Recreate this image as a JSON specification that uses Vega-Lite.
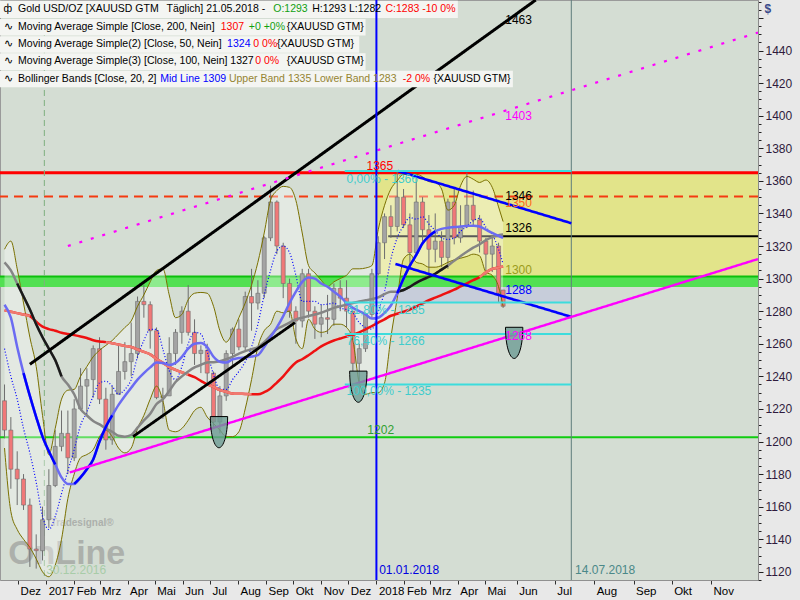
{
"$schema":"https://vega.github.io/schema/vega-lite/v6.json",
"width":758,"height":580,"autosize":"none",
"padding":{"left":0,"top":0,"right":42,"bottom":20},
"background":"#e8e8e8",
"config":{"view":{"fill":"#d4ddd3","stroke":"#9a9a9a"},"text":{"font":"Liberation Sans"},"axis":{"labelOverlap":false}},
"datasets":{
"px":[
{"d":"2016-11-16","o":1225,"h":1235,"l":1202,"c":1207,"s2":1280.5,"s5":1284,"s1":1310,"bu":1318,"bl":1196,"bm":1257},
{"d":"2016-11-23","o":1207,"h":1215,"l":1171,"c":1183,"s2":1279.7,"s5":1276,"s1":1305,"bu":1323,"bl":1157,"bm":1240},
{"d":"2016-11-30","o":1183,"h":1194,"l":1161,"c":1177,"s2":1278.8,"s5":1258,"s1":1297,"bu":1306,"bl":1146,"bm":1226},
{"d":"2016-12-07","o":1177,"h":1180,"l":1158,"c":1161,"s2":1278,"s5":1242,"s1":1289,"bu":1285,"bl":1140,"bm":1208},
{"d":"2016-12-14","o":1161,"h":1165,"l":1123,"c":1134,"s2":1277,"s5":1228,"s1":1281,"bu":1264,"bl":1135,"bm":1193},
{"d":"2016-12-21","o":1134,"h":1143,"l":1122,"c":1133,"s2":1273.5,"s5":1215,"s1":1272,"bu":1246,"bl":1128,"bm":1175},
{"d":"2016-12-28","o":1133,"h":1160,"l":1127,"c":1152,"s2":1270.5,"s5":1203,"s1":1264,"bu":1216,"bl":1120,"bm":1154},
{"d":"2017-01-04","o":1152,"h":1183,"l":1147,"c":1173,"s2":1269,"s5":1194,"s1":1257,"bu":1192,"bl":1117,"bm":1146},
{"d":"2017-01-11","o":1173,"h":1207,"l":1172,"c":1197,"s2":1268,"s5":1186,"s1":1250,"bu":1208,"bl":1124,"bm":1154},
{"d":"2017-01-18","o":1197,"h":1219,"l":1194,"c":1205,"s2":1266.8,"s5":1178,"s1":1240,"bu":1226,"bl":1140,"bm":1168},
{"d":"2017-01-25","o":1205,"h":1219,"l":1180,"c":1190,"s2":1266,"s5":1174,"s1":1235,"bu":1231.5,"bl":1165,"bm":1182},
{"d":"2017-02-01","o":1190,"h":1226,"l":1188,"c":1220,"s2":1265.3,"s5":1174,"s1":1229,"bu":1232,"bl":1180,"bm":1195},
{"d":"2017-02-08","o":1220,"h":1245,"l":1219,"c":1234,"s2":1264.5,"s5":1178,"s1":1220,"bu":1240,"bl":1190,"bm":1210},
{"d":"2017-02-15","o":1234,"h":1245,"l":1216,"c":1238,"s2":1263.5,"s5":1183,"s1":1216,"bu":1246,"bl":1192,"bm":1218},
{"d":"2017-02-22","o":1238,"h":1259,"l":1227,"c":1257,"s2":1262.2,"s5":1189,"s1":1212.6,"bu":1252,"bl":1195,"bm":1228},
{"d":"2017-03-01","o":1257,"h":1264,"l":1223,"c":1226,"s2":1261.4,"s5":1200,"s1":1210.5,"bu":1256,"bl":1203,"bm":1236},
{"d":"2017-03-08","o":1226,"h":1233,"l":1195,"c":1201,"s2":1261,"s5":1209,"s1":1208,"bu":1259,"bl":1207,"bm":1237},
{"d":"2017-03-15","o":1201,"h":1234,"l":1198,"c":1229,"s2":1260.3,"s5":1216,"s1":1206,"bu":1262,"bl":1203,"bm":1234},
{"d":"2017-03-22","o":1229,"h":1260,"l":1229,"c":1243,"s2":1259.5,"s5":1222.5,"s1":1203.5,"bu":1266,"bl":1196,"bm":1229},
{"d":"2017-03-29","o":1243,"h":1261,"l":1238,"c":1249,"s2":1258.7,"s5":1228,"s1":1203,"bu":1270,"bl":1193,"bm":1232},
{"d":"2017-04-05","o":1249,"h":1273,"l":1240,"c":1254,"s2":1258,"s5":1233,"s1":1204,"bu":1274,"bl":1196,"bm":1238},
{"d":"2017-04-12","o":1254,"h":1289,"l":1251,"c":1286,"s2":1256.5,"s5":1238,"s1":1208.5,"bu":1283,"bl":1208,"bm":1252},
{"d":"2017-04-19","o":1286,"h":1296,"l":1276,"c":1284,"s2":1255,"s5":1242,"s1":1213,"bu":1290,"bl":1216,"bm":1262},
{"d":"2017-04-26","o":1284,"h":1286,"l":1257,"c":1268,"s2":1253.5,"s5":1245.5,"s1":1217,"bu":1298,"bl":1226,"bm":1268.8},
{"d":"2017-05-03","o":1268,"h":1270,"l":1226,"c":1227,"s2":1250.7,"s5":1248.5,"s1":1223,"bu":1305,"bl":1234,"bm":1268.8},
{"d":"2017-05-10","o":1227,"h":1233,"l":1214,"c":1228,"s2":1248.3,"s5":1248.2,"s1":1226,"bu":1306,"bl":1225,"bm":1256.6},
{"d":"2017-05-17","o":1228,"h":1264,"l":1228,"c":1254,"s2":1245.7,"s5":1247,"s1":1231,"bu":1290,"bl":1207,"bm":1243.5},
{"d":"2017-05-24","o":1254,"h":1269,"l":1247,"c":1267,"s2":1244,"s5":1248.3,"s1":1236.5,"bu":1276,"bl":1206,"bm":1238},
{"d":"2017-05-31","o":1267,"h":1283,"l":1260,"c":1280,"s2":1242.5,"s5":1252,"s1":1240,"bu":1278,"bl":1208,"bm":1246},
{"d":"2017-06-07","o":1280,"h":1296,"l":1265,"c":1267,"s2":1241,"s5":1257,"s1":1243,"bu":1287,"bl":1213,"bm":1260},
{"d":"2017-06-14","o":1267,"h":1275,"l":1247,"c":1254,"s2":1239.5,"s5":1260,"s1":1245.5,"bu":1291,"bl":1219,"bm":1267},
{"d":"2017-06-21","o":1254,"h":1259,"l":1242,"c":1256,"s2":1237.2,"s5":1260.5,"s1":1247,"bu":1291.5,"bl":1221,"bm":1266},
{"d":"2017-06-28","o":1256,"h":1260,"l":1236,"c":1242,"s2":1235,"s5":1258,"s1":1248.5,"bu":1291,"bl":1215,"bm":1255},
{"d":"2017-07-05","o":1242,"h":1243,"l":1208,"c":1212,"s2":1233.5,"s5":1252,"s1":1248.7,"bu":1283,"bl":1211,"bm":1241},
{"d":"2017-07-12","o":1212,"h":1234,"l":1205,"c":1228,"s2":1231.5,"s5":1249,"s1":1249.3,"bu":1268,"bl":1207,"bm":1232},
{"d":"2017-07-19","o":1228,"h":1256,"l":1225,"c":1254,"s2":1230.5,"s5":1248.5,"s1":1250.5,"bu":1261,"bl":1203,"bm":1232},
{"d":"2017-07-26","o":1254,"h":1270,"l":1245,"c":1269,"s2":1229.5,"s5":1250.4,"s1":1252,"bu":1267,"bl":1203,"bm":1238},
{"d":"2017-08-02","o":1269,"h":1275,"l":1256,"c":1258,"s2":1229.3,"s5":1251.3,"s1":1254,"bu":1276,"bl":1206,"bm":1243},
{"d":"2017-08-09","o":1258,"h":1292,"l":1256,"c":1289,"s2":1229.2,"s5":1251.6,"s1":1255.5,"bu":1285,"bl":1220,"bm":1249},
{"d":"2017-08-16","o":1289,"h":1306,"l":1268,"c":1285,"s2":1229,"s5":1252.2,"s1":1256.6,"bu":1296,"bl":1238,"bm":1258},
{"d":"2017-08-23","o":1285,"h":1299,"l":1281,"c":1291,"s2":1229,"s5":1253,"s1":1258,"bu":1310,"bl":1258,"bm":1272},
{"d":"2017-08-30","o":1291,"h":1326,"l":1288,"c":1325,"s2":1230.3,"s5":1258,"s1":1261,"bu":1328,"bl":1268,"bm":1290},
{"d":"2017-09-06","o":1325,"h":1357,"l":1323,"c":1347,"s2":1232.6,"s5":1264,"s1":1265,"bu":1348,"bl":1272,"bm":1305},
{"d":"2017-09-13","o":1347,"h":1348,"l":1315,"c":1320,"s2":1236.2,"s5":1270,"s1":1269,"bu":1354,"bl":1280,"bm":1317},
{"d":"2017-09-20","o":1320,"h":1322,"l":1288,"c":1297,"s2":1240,"s5":1277,"s1":1271,"bu":1356.6,"bl":1279,"bm":1320},
{"d":"2017-09-27","o":1297,"h":1300,"l":1276,"c":1280,"s2":1244.6,"s5":1285,"s1":1273,"bu":1356,"bl":1280,"bm":1316},
{"d":"2017-10-04","o":1280,"h":1283,"l":1260,"c":1274,"s2":1248.5,"s5":1292,"s1":1275,"bu":1348,"bl":1263,"bm":1302},
{"d":"2017-10-11","o":1274,"h":1306,"l":1270,"c":1303,"s2":1250.5,"s5":1298,"s1":1276,"bu":1328,"bl":1257,"bm":1286},
{"d":"2017-10-18","o":1303,"h":1306,"l":1276,"c":1280,"s2":1253,"s5":1300.7,"s1":1277,"bu":1308,"bl":1275,"bm":1286},
{"d":"2017-10-25","o":1280,"h":1283,"l":1263,"c":1272,"s2":1255.7,"s5":1300,"s1":1278,"bu":1303.5,"bl":1269,"bm":1286},
{"d":"2017-11-01","o":1272,"h":1284,"l":1264,"c":1276,"s2":1258.4,"s5":1297,"s1":1279,"bu":1299,"bl":1267,"bm":1284},
{"d":"2017-11-08","o":1276,"h":1290,"l":1266,"c":1275,"s2":1260.4,"s5":1295,"s1":1280.5,"bu":1295,"bl":1268,"bm":1284.3},
{"d":"2017-11-15","o":1275,"h":1297,"l":1271,"c":1294,"s2":1262,"s5":1292,"s1":1282,"bu":1298,"bl":1272,"bm":1285},
{"d":"2017-11-22","o":1294,"h":1299,"l":1280,"c":1288,"s2":1263.2,"s5":1289,"s1":1283,"bu":1300,"bl":1272,"bm":1282},
{"d":"2017-11-29","o":1288,"h":1299,"l":1270,"c":1280,"s2":1264.4,"s5":1285,"s1":1284,"bu":1302,"bl":1270,"bm":1281},
{"d":"2017-12-06","o":1280,"h":1280,"l":1243,"c":1248,"s2":1265.5,"s5":1282,"s1":1285,"bu":1306,"bl":1262,"bm":1279},
{"d":"2017-12-13","o":1248,"h":1260,"l":1236,"c":1257,"s2":1267,"s5":1280,"s1":1286,"bu":1306,"bl":1236,"bm":1273},
{"d":"2017-12-20","o":1257,"h":1279,"l":1255,"c":1278,"s2":1268.8,"s5":1278,"s1":1286.7,"bu":1306.5,"bl":1229,"bm":1270},
{"d":"2017-12-27","o":1278,"h":1306,"l":1276,"c":1303,"s2":1270.9,"s5":1275.5,"s1":1287.4,"bu":1308,"bl":1230,"bm":1269},
{"d":"2018-01-03","o":1303,"h":1326,"l":1302,"c":1322,"s2":1273,"s5":1276,"s1":1288.5,"bu":1330,"bl":1230,"bm":1280},
{"d":"2018-01-10","o":1322,"h":1340,"l":1312,"c":1338,"s2":1275,"s5":1279,"s1":1290.5,"bu":1345,"bl":1236,"bm":1292},
{"d":"2018-01-17","o":1338,"h":1345,"l":1325,"c":1332,"s2":1277.2,"s5":1283.5,"s1":1292,"bu":1355,"bl":1264,"bm":1312},
{"d":"2018-01-24","o":1332,"h":1366,"l":1329,"c":1350,"s2":1278.4,"s5":1291,"s1":1292,"bu":1360,"bl":1288,"bm":1325},
{"d":"2018-01-31","o":1350,"h":1355,"l":1331,"c":1333,"s2":1279.7,"s5":1300,"s1":1293,"bu":1364,"bl":1312,"bm":1332.5},
{"d":"2018-02-07","o":1333,"h":1340,"l":1307,"c":1316,"s2":1281,"s5":1308,"s1":1295,"bu":1364,"bl":1315,"bm":1337.5},
{"d":"2018-02-14","o":1316,"h":1362,"l":1314,"c":1347,"s2":1282.8,"s5":1314.5,"s1":1297.4,"bu":1364,"bl":1310,"bm":1336.5},
{"d":"2018-02-21","o":1347,"h":1350,"l":1321,"c":1330,"s2":1284.8,"s5":1321.7,"s1":1299.4,"bu":1362.5,"bl":1309,"bm":1338},
{"d":"2018-02-28","o":1330,"h":1339,"l":1303,"c":1318,"s2":1286.7,"s5":1326,"s1":1301,"bu":1359.5,"bl":1307,"bm":1333.5},
{"d":"2018-03-07","o":1318,"h":1340,"l":1310,"c":1323,"s2":1288.3,"s5":1329,"s1":1303,"bu":1359,"bl":1307,"bm":1329.5},
{"d":"2018-03-14","o":1323,"h":1329,"l":1307,"c":1313,"s2":1289.9,"s5":1330.5,"s1":1305.5,"bu":1355,"bl":1308,"bm":1325},
{"d":"2018-03-21","o":1313,"h":1349,"l":1306,"c":1347,"s2":1291.5,"s5":1331.2,"s1":1308,"bu":1342,"bl":1310,"bm":1324},
{"d":"2018-03-28","o":1347,"h":1356,"l":1321,"c":1325,"s2":1293.2,"s5":1331.6,"s1":1311,"bu":1345,"bl":1311.5,"bm":1325},
{"d":"2018-04-04","o":1325,"h":1345,"l":1322,"c":1332,"s2":1295.2,"s5":1332,"s1":1313.8,"bu":1357,"bl":1312.5,"bm":1329},
{"d":"2018-04-11","o":1332,"h":1365,"l":1331,"c":1345,"s2":1297.1,"s5":1332.3,"s1":1316.5,"bu":1362.7,"bl":1313.6,"bm":1332},
{"d":"2018-04-18","o":1345,"h":1354,"l":1332,"c":1336,"s2":1299,"s5":1332.5,"s1":1319,"bu":1361,"bl":1315,"bm":1335.5},
{"d":"2018-04-25","o":1336,"h":1339,"l":1316,"c":1323,"s2":1300.9,"s5":1332,"s1":1321,"bu":1359,"bl":1314,"bm":1337},
{"d":"2018-05-02","o":1323,"h":1325,"l":1302,"c":1315,"s2":1303.8,"s5":1330,"s1":1323.6,"bu":1360.5,"bl":1304,"bm":1331.5},
{"d":"2018-05-09","o":1315,"h":1326,"l":1304,"c":1320,"s2":1306,"s5":1328,"s1":1325.5,"bu":1356,"bl":1302,"bm":1327},
{"d":"2018-05-16","o":1320,"h":1322,"l":1285,"c":1291,"s2":1306.8,"s5":1326.3,"s1":1326.6,"bu":1344,"bl":1295,"bm":1318},
{"d":"2018-05-21","o":1293,"h":1293,"l":1282,"c":1283,"s2":1307.5,"s5":1325,"s1":1327,"bu":1335,"bl":1283,"bm":1309}
],
"tl":[
{"id":"up1","k":"trend","d":"2016-12-14","p":1247.4},{"id":"up1","k":"trend","d":"2018-06-16","p":1471},
{"id":"ch2","k":"thin","d":"2017-04-07","p":1203},{"id":"ch2","k":"thin","d":"2017-10-03","p":1273},
{"id":"bt1","k":"blue","d":"2018-01-25","p":1366},{"id":"bt1","k":"blue","d":"2018-07-14","p":1334},
{"id":"bt2","k":"blue","d":"2018-01-22","p":1309},{"id":"bt2","k":"blue","d":"2018-07-14","p":1276.5},
{"id":"mg","k":"mag","d":"2017-01-27","p":1181},{"id":"mg","k":"mag","d":"2018-12-08","p":1312},
{"id":"md","k":"magdot","d":"2017-01-25","p":1320},{"id":"md","k":"magdot","d":"2018-12-08","p":1451},
{"id":"f1","k":"fib","d":"2017-11-27","p":1366},{"id":"f1","k":"fib","d":"2018-07-14","p":1366},
{"id":"f2","k":"fib","d":"2017-11-27","p":1285.4},{"id":"f2","k":"fib","d":"2018-07-14","p":1285.4},
{"id":"f3","k":"fib","d":"2017-11-27","p":1266},{"id":"f3","k":"fib","d":"2018-07-14","p":1266},
{"id":"f4","k":"fib","d":"2017-11-27","p":1235},{"id":"f4","k":"fib","d":"2018-07-14","p":1235}
],
"ann":[
{"t":"1463","d":"2018-05-23","p":1459,"c":"k"},
{"t":"1403","d":"2018-05-23","p":1399.5,"c":"m"},
{"t":"1365","d":"2017-12-21","p":1369.4,"c":"r"},
{"t":"1350","d":"2018-05-23","p":1346.7,"c":"or"},
{"t":"1346","d":"2018-05-23","p":1350.4,"c":"k"},
{"t":"1326","d":"2018-05-23","p":1330.8,"c":"k"},
{"t":"1300","d":"2018-05-23","p":1305,"c":"ol"},
{"t":"1288","d":"2018-05-23","p":1292.8,"c":"b"},
{"t":"1268","d":"2018-05-23","p":1264.5,"c":"m"},
{"t":"1202","d":"2017-12-22","p":1207,"c":"g2"},
{"t":"0,00% - 1366","d":"2017-11-29","p":1361,"c":"cy"},
{"t":"61,80% - 1285","d":"2017-11-29","p":1280.5,"c":"cy"},
{"t":"76,40% - 1266","d":"2017-11-29","p":1261.5,"c":"cy"},
{"t":"100,00% - 1235","d":"2017-11-29","p":1230.8,"c":"cy"},
{"t":"01.01.2018","d":"2018-01-04","p":1121,"c":"bb"},
{"t":"14.07.2018","d":"2018-07-17","p":1121,"c":"te"},
{"t":"30.12.2016","d":"2017-01-01","p":1121,"c":"lg"}
],
"logo":[
{"t":"Tradesignal®","d":"2017-01-06","p":1150,"s":"small"},
{"t":"OnLine","d":"2016-11-20","p":1131,"s":"big"}
],
"box":[
{"d":"2016-11-11","d2":"2018-04-01","p":1460,"p2":1470.6},
{"d":"2016-11-11","d2":"2017-12-20","p":1449.2,"p2":1459.4},
{"d":"2016-11-11","d2":"2017-12-13","p":1438.6,"p2":1448.8},
{"d":"2016-11-11","d2":"2017-12-20","p":1428.1,"p2":1438.3},
{"d":"2016-11-11","d2":"2018-05-29","p":1417.4,"p2":1427.6}
],
"leg":[
{"t":"ф","d":"2016-11-15","p":1465.2,"c":"k"},
{"t":"Gold USD/OZ [XAUUSD GTM","d":"2016-12-01","p":1465.2,"c":"k"},
{"t":"Täglich] 21.05.2018 -","d":"2017-05-14","p":1465.2,"c":"k"},
{"t":"O:1293","d":"2017-09-09","p":1465.2,"c":"g"},
{"t":"H:1293 L:1282","d":"2017-10-22","p":1465.2,"c":"k"},
{"t":"C:1283 -10 0%","d":"2018-01-11","p":1465.2,"c":"r"},
{"t":"∿","d":"2016-11-15","p":1454.3,"c":"k"},
{"t":"Moving Average Simple [Close, 200, Nein]","d":"2016-12-01","p":1454.3,"c":"k"},
{"t":"1307","d":"2017-07-13","p":1454.3,"c":"r"},
{"t":"+0 +0%","d":"2017-08-13","p":1454.3,"c":"g"},
{"t":"{XAUUSD GTM}","d":"2017-09-24","p":1454.3,"c":"k"},
{"t":"∿","d":"2016-11-15","p":1443.8,"c":"k"},
{"t":"Moving Average Simple(2) [Close, 50, Nein]","d":"2016-12-01","p":1443.8,"c":"k"},
{"t":"1324","d":"2017-07-20","p":1443.8,"c":"b"},
{"t":"0 0%","d":"2017-08-18","p":1443.8,"c":"r"},
{"t":"{XAUUSD GTM}","d":"2017-09-13","p":1443.8,"c":"k"},
{"t":"∿","d":"2016-11-15","p":1433.3,"c":"k"},
{"t":"Moving Average Simple(3) [Close, 100, Nein] 1327","d":"2016-12-01","p":1433.3,"c":"k"},
{"t":"0 0%","d":"2017-08-20","p":1433.3,"c":"r"},
{"t":"{XAUUSD GTM}","d":"2017-09-24","p":1433.3,"c":"k"},
{"t":"∿","d":"2016-11-15","p":1422.5,"c":"k"},
{"t":"Bollinger Bands [Close, 20, 2]","d":"2016-12-01","p":1422.5,"c":"k"},
{"t":"Mid Line 1309","d":"2017-05-07","p":1422.5,"c":"b"},
{"t":"Upper Band 1335 Lower Band 1283","d":"2017-07-22","p":1422.5,"c":"o"},
{"t":"-2 0%","d":"2018-01-30","p":1422.5,"c":"r"},
{"t":"{XAUUSD GTM}","d":"2018-03-05","p":1422.5,"c":"k"}
]
},
"layer":[
{"data":{"values":[{"d":"2018-01-01","d2":"2018-12-08","p":1300,"p2":1365}]},
 "mark":{"type":"rect","color":"#e2e48a"},
 "encoding":{
  "x":{"field":"d","type":"temporal","scale":{"domain":[1478822400000,1544227200000],"domainRaw":{"expr":"[1478822400000,1526947200000,1544227200000]"},"range":[0,504,758],"nice":false},
   "axis":{"title":null,"grid":false,"tickCount":40,"values":[1480550400000,1483228800000,1485907200000,1488326400000,1491004800000,1493596800000,1496275200000,1498867200000,1501545600000,1504224000000,1506816000000,1509494400000,1512086400000,1514764800000,1517443200000,1519862400000,1522540800000,1525132800000,1527811200000,1530403200000,1533081600000,1535760000000,1538352000000,1541030400000],
    "labelExpr":"utcmonth(datum.value)==0 ? utcFormat(datum.value,'%Y') : ['Jan','Feb','Mrz','Apr','Mai','Jun','Jul','Aug','Sep','Okt','Nov','Dez'][utcmonth(datum.value)]",
    "tickSize":4,"tickColor":"#303030","domainColor":"#909090","labelAlign":"left","labelOffset":2,"labelPadding":1,"labelFont":"Liberation Sans","labelFontSize":11.5,"labelColor":"#000000","labelOverlap":false,"labelFlush":false,"labelBound":false}},
  "x2":{"field":"d2"},
  "y":{"field":"p","type":"quantitative","scale":{"domain":[1115,1471],"nice":false,"zero":false},
   "axis":{"orient":"right","grid":false,"tickCount":72,"format":"d","labelExpr":"datum.value % 20 === 0 && datum.value < 1450 ? datum.label : ''",
    "tickSize":{"condition":{"test":"datum.value % 20 === 0","value":5},"value":3},
    "tickColor":"#202020","domainColor":"#8a8a8a","labelPadding":2,"labelOverlap":false,"labelFont":"Liberation Sans","labelFontSize":12,"labelColor":"#2e1a3c",
    "title":"$","titleAngle":0,"titleX":6,"titleY":8,"titleAlign":"left","titleBaseline":"middle","titleColor":"#3a4a8a","titleFontSize":12,"titleFontWeight":"bold","titleFont":"Liberation Sans"}},
  "y2":{"field":"p2"}}},
{"data":{"values":[{"d":"2017-11-27","d2":"2018-07-14","p":1285.4,"p2":1300.5}]},
 "mark":{"type":"rect","color":"#c7cdda"},
 "encoding":{"x":{"field":"d","type":"temporal"},"x2":{"field":"d2"},"y":{"field":"p","type":"quantitative"},"y2":{"field":"p2"}}},
{"data":{"values":[{"d":"2016-11-11","d2":"2018-12-08","p":1294.8,"p2":1301.3}]},
 "mark":{"type":"rect","color":"#52e052"},
 "encoding":{"x":{"field":"d","type":"temporal"},"x2":{"field":"d2"},"y":{"field":"p","type":"quantitative"},"y2":{"field":"p2"}}},
{"data":{"values":[{"p":1301.3}]},"mark":{"type":"rule","color":"#0cc00c","strokeWidth":2},"encoding":{"y":{"field":"p","type":"quantitative"}}},
{"data":{"values":[{"p":1365}]},"mark":{"type":"rule","color":"#ff0000","strokeWidth":3},"encoding":{"y":{"field":"p","type":"quantitative"}}},
{"data":{"values":[{"p":1350.4}]},"mark":{"type":"rule","color":"#f43a10","strokeWidth":2,"strokeDash":[9,6]},"encoding":{"y":{"field":"p","type":"quantitative"}}},
{"data":{"values":[{"p":1202.6}]},"mark":{"type":"rule","color":"#10cc10","strokeWidth":2},"encoding":{"y":{"field":"p","type":"quantitative"}}},
{"data":{"values":[{"d":"2018-01-14","p":1326},{"d":"2018-12-08","p":1326}]},"mark":{"type":"line","color":"#000000","strokeWidth":2},
 "encoding":{"x":{"field":"d","type":"temporal"},"y":{"field":"p","type":"quantitative"}}},
{"data":{"values":[{"d":"2016-12-30"}]},"mark":{"type":"rule","color":"#7fb07f","strokeWidth":1,"strokeDash":[6,4]},"encoding":{"x":{"field":"d","type":"temporal"}}},
{"data":{"values":[{"d":"2018-07-14"}]},"mark":{"type":"rule","color":"#5e7e7c","strokeWidth":1},"encoding":{"x":{"field":"d","type":"temporal"}}},
{"data":{"name":"logo"},"mark":{"type":"text","align":"left","baseline":"middle","fontWeight":"bold","color":"#8c8c8c","opacity":0.55},
 "encoding":{"x":{"field":"d","type":"temporal"},"y":{"field":"p","type":"quantitative"},"text":{"field":"t"},
  "size":{"field":"s","type":"nominal","scale":{"domain":["small","big"],"range":[10,34]},"legend":null}}},
{"data":{"name":"px"},"mark":{"type":"area","color":"#ffffff","opacity":0.35,"interpolate":"monotone"},
 "encoding":{"x":{"field":"d","type":"temporal"},"y":{"field":"bu","type":"quantitative"},"y2":{"field":"bl"}}},
{"data":{"name":"px"},"mark":{"type":"rule","color":"#6e6e6e","strokeWidth":1},
 "encoding":{"x":{"field":"d","type":"temporal"},"y":{"field":"l","type":"quantitative"},"y2":{"field":"h"}}},
{"data":{"name":"px"},"mark":{"type":"bar","width":4,"stroke":"#6e6e6e","strokeWidth":0.6},
 "encoding":{"x":{"field":"d","type":"temporal"},"y":{"field":"o","type":"quantitative"},"y2":{"field":"c"},
  "color":{"condition":{"test":"datum.c < datum.o","value":"#f07878"},"value":"#a4a4a4"}}},
{"data":{"name":"px"},"mark":{"type":"line","color":"#7a7000","strokeWidth":1,"interpolate":"monotone"},
 "encoding":{"x":{"field":"d","type":"temporal"},"y":{"field":"bu","type":"quantitative"}}},
{"data":{"name":"px"},"mark":{"type":"line","color":"#7a7000","strokeWidth":1,"interpolate":"monotone"},
 "encoding":{"x":{"field":"d","type":"temporal"},"y":{"field":"bl","type":"quantitative"}}},
{"data":{"name":"px"},"mark":{"type":"line","color":"#0000ff","strokeWidth":1.2,"strokeDash":[1,2],"interpolate":"monotone"},
 "encoding":{"x":{"field":"d","type":"temporal"},"y":{"field":"bm","type":"quantitative"}}},
{"data":{"name":"px"},"mark":{"type":"line","color":"#ee1111","strokeWidth":2.5,"interpolate":"monotone"},
 "encoding":{"x":{"field":"d","type":"temporal"},"y":{"field":"s2","type":"quantitative"}}},
{"data":{"name":"px"},"transform":[{"filter":"time(datum.d) >= utc(2016,10,16) && time(datum.d) <= utc(2016,11,14)"}],"mark":{"type":"line","color":"#f07a70","strokeWidth":2.5,"interpolate":"monotone"},
 "encoding":{"x":{"field":"d","type":"temporal"},"y":{"field":"s2","type":"quantitative"}}},
{"data":{"name":"px"},"transform":[{"filter":"time(datum.d) >= utc(2017,2,8) && time(datum.d) <= utc(2017,5,7)"}],"mark":{"type":"line","color":"#f07a70","strokeWidth":2.5,"interpolate":"monotone"},
 "encoding":{"x":{"field":"d","type":"temporal"},"y":{"field":"s2","type":"quantitative"}}},
{"data":{"name":"px"},"transform":[{"filter":"time(datum.d) >= utc(2017,5,28) && time(datum.d) <= utc(2017,7,16)"}],"mark":{"type":"line","color":"#f07a70","strokeWidth":2.5,"interpolate":"monotone"},
 "encoding":{"x":{"field":"d","type":"temporal"},"y":{"field":"s2","type":"quantitative"}}},
{"data":{"name":"px"},"transform":[{"filter":"time(datum.d) >= utc(2018,3,25) && time(datum.d) <= utc(2018,4,21)"}],"mark":{"type":"line","color":"#f07a70","strokeWidth":2.5,"interpolate":"monotone"},
 "encoding":{"x":{"field":"d","type":"temporal"},"y":{"field":"s2","type":"quantitative"}}},
{"data":{"name":"px"},"mark":{"type":"line","color":"#858585","strokeWidth":2.5,"interpolate":"monotone"},
 "encoding":{"x":{"field":"d","type":"temporal"},"y":{"field":"s1","type":"quantitative"}}},
{"data":{"name":"px"},"transform":[{"filter":"time(datum.d) >= utc(2016,10,30) && time(datum.d) <= utc(2017,0,18)"}],"mark":{"type":"line","color":"#1a1a1a","strokeWidth":2.5,"interpolate":"monotone"},
 "encoding":{"x":{"field":"d","type":"temporal"},"y":{"field":"s1","type":"quantitative"}}},
{"data":{"name":"px"},"transform":[{"filter":"time(datum.d) >= utc(2018,0,24) && time(datum.d) <= utc(2018,2,21)"}],"mark":{"type":"line","color":"#1a1a1a","strokeWidth":2.5,"interpolate":"monotone"},
 "encoding":{"x":{"field":"d","type":"temporal"},"y":{"field":"s1","type":"quantitative"}}},
{"data":{"name":"px"},"mark":{"type":"line","color":"#6b6bf2","strokeWidth":2.5,"interpolate":"monotone"},
 "encoding":{"x":{"field":"d","type":"temporal"},"y":{"field":"s5","type":"quantitative"}}},
{"data":{"name":"px"},"transform":[{"filter":"time(datum.d) >= utc(2016,11,7) && time(datum.d) <= utc(2017,0,11)"}],"mark":{"type":"line","color":"#0000ff","strokeWidth":2.5,"interpolate":"monotone"},
 "encoding":{"x":{"field":"d","type":"temporal"},"y":{"field":"s5","type":"quantitative"}}},
{"data":{"name":"px"},"transform":[{"filter":"time(datum.d) >= utc(2017,1,1) && time(datum.d) <= utc(2017,2,15)"}],"mark":{"type":"line","color":"#0000ff","strokeWidth":2.5,"interpolate":"monotone"},
 "encoding":{"x":{"field":"d","type":"temporal"},"y":{"field":"s5","type":"quantitative"}}},
{"data":{"name":"px"},"transform":[{"filter":"time(datum.d) >= utc(2018,0,24) && time(datum.d) <= utc(2018,2,7)"}],"mark":{"type":"line","color":"#0000ff","strokeWidth":2.5,"interpolate":"monotone"},
 "encoding":{"x":{"field":"d","type":"temporal"},"y":{"field":"s5","type":"quantitative"}}},
{"data":{"name":"tl"},"mark":{"type":"line","clip":true},
 "encoding":{"x":{"field":"d","type":"temporal"},"y":{"field":"p","type":"quantitative"},"detail":{"field":"id"},
  "color":{"field":"k","type":"nominal","scale":{"domain":["trend","thin","blue","mag","magdot","fib"],"range":["#000000","#000000","#0000ff","#ff00ff","#ff00ff","#3cdcdc"]},"legend":null},
  "strokeWidth":{"field":"k","type":"nominal","scale":{"domain":["trend","thin","blue","mag","magdot","fib"],"range":[3,2,2.5,4,3,1]},"legend":null},
  "strokeDash":{"field":"k","type":"nominal","scale":{"domain":["trend","thin","blue","mag","magdot","fib"],"range":[[1,0],[1,0],[1,0],[1,0],[3,9],[1,0]]},"legend":null}}},
{"data":{"values":[{"d":"2018-05-30","p":1264.8},{"d":"2017-07-11","p":1210},{"d":"2017-12-12","p":1237.9}]},
 "mark":{"type":"point","shape":"M-1,-1L1,-1C1,1.2 0.5,2.6 0,2.6C-0.5,2.6 -1,1.2 -1,-1Z","size":300,"filled":true,"fill":"#6d9c95","fillOpacity":0.8,"stroke":"#000000","strokeWidth":1,"strokeOpacity":1},
 "encoding":{"x":{"field":"d","type":"temporal"},"y":{"field":"p","type":"quantitative"}}},
{"data":{"name":"box"},"mark":{"type":"rect","color":"#f4f5f2"},
 "encoding":{"x":{"field":"d","type":"temporal"},"x2":{"field":"d2"},"y":{"field":"p","type":"quantitative"},"y2":{"field":"p2"}}},
{"data":{"values":[{"d":"2018-01-01"}]},"mark":{"type":"rule","color":"#0000ff","strokeWidth":2},"encoding":{"x":{"field":"d","type":"temporal"}}},
{"data":{"name":"ann"},"mark":{"type":"text","align":"left","baseline":"middle","font":"Liberation Sans","fontSize":12},
 "encoding":{"x":{"field":"d","type":"temporal"},"y":{"field":"p","type":"quantitative"},"text":{"field":"t"},
  "color":{"field":"c","type":"nominal","scale":{"domain":["k","r","g","b","o","m","cy","g2","ol","or","bb","te","lg"],"range":["#000000","#ff0000","#10a010","#0000ff","#948431","#ff00ff","#40cccc","#30a030","#9c9c1c","#ff6a1a","#0000e0","#4a8888","#a8cca8"]},"legend":null}}},
{"data":{"name":"leg"},"mark":{"type":"text","align":"left","baseline":"middle","font":"Liberation Sans","fontSize":10.5},
 "encoding":{"x":{"field":"d","type":"temporal"},"y":{"field":"p","type":"quantitative"},"text":{"field":"t"},
  "color":{"field":"c","type":"nominal","scale":{"domain":["k","r","g","b","o","m","cy","g2","ol","or","bb","te","lg"],"range":["#000000","#ff0000","#10a010","#0000ff","#948431","#ff00ff","#40cccc","#30a030","#9c9c1c","#ff6a1a","#0000e0","#4a8888","#a8cca8"]},"legend":null}}}
],
"resolve":{"scale":{"color":"independent","strokeWidth":"independent","strokeDash":"independent","size":"independent"}}
}
